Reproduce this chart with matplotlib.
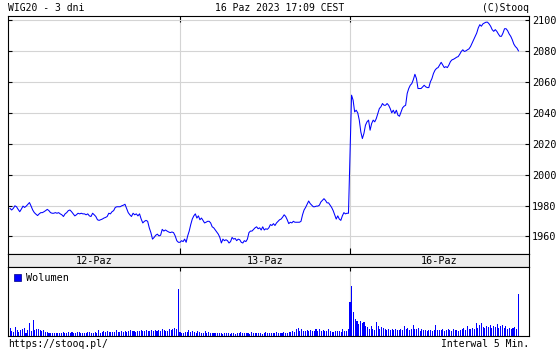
import matplotlib
matplotlib.use("Agg")
import matplotlib.pyplot as plt

# WIG20, 5-minute bars, three sessions
day_labels = ["12-Paz", "13-Paz", "16-Paz"]
price_ticks = [1960, 1980, 2000, 2020, 2040, 2060, 2080, 2100]

price_d1 = [1978.1, 1977.1, 1978.1, 1979.8, 1979.2, 1977.5, 1976.0, 1977.7, 1979.6, 1978.75,
            1979.6, 1980.8, 1981.9, 1979.6, 1977.1, 1975.4, 1974.4, 1973.5, 1974.6, 1975.4,
            1975.4, 1976.0, 1976.7, 1977.5, 1976.7, 1975.4, 1975.0, 1975.0, 1975.4, 1975.0,
            1975.4, 1974.6, 1974.0, 1972.9, 1974.6, 1975.4, 1976.7, 1977.1, 1976.0, 1974.6,
            1973.3, 1974.0, 1975.0, 1974.6, 1975.0, 1974.6, 1974.6, 1974.0, 1974.6, 1973.3,
            1972.9, 1975.0, 1974.0, 1972.9, 1970.8,
            1970.4, 1970.8, 1971.25, 1971.9, 1972.3, 1972.9, 1975.0, 1974.6, 1976.0, 1976.7,
            1978.75, 1979.2, 1979.2, 1979.2, 1979.8, 1980.2, 1980.8, 1978.1, 1975.4, 1974.0,
            1972.9, 1975.0, 1974.0, 1974.6, 1973.3, 1974.6, 1971.25, 1968.75, 1969.8, 1970.4,
            1969.8, 1965.6, 1962.5, 1958.3, 1959.4, 1960.8, 1961.5, 1960.4, 1960.8, 1964.6,
            1963.5, 1964.2, 1963.5, 1962.9, 1962.5, 1962.9, 1962.5, 1960.4, 1957.3, 1956.25]

price_d2 = [1956.25, 1957.3, 1956.7, 1958.3, 1956.25, 1960.4, 1963.5, 1967.7, 1971.25, 1973.3,
            1974.6, 1971.9, 1973.3, 1970.8, 1971.9, 1970.4, 1968.75, 1969.2, 1969.8, 1969.8,
            1968.75, 1966.25, 1965.6, 1964.2, 1962.9, 1961.5, 1959.4, 1955.8, 1958.3, 1957.3,
            1957.9, 1957.3, 1955.8, 1956.7, 1959.4, 1958.3, 1958.75, 1957.3, 1958.3, 1957.9,
            1956.25, 1955.8, 1957.3, 1956.7, 1958.3, 1962.5, 1963.5, 1963.5, 1964.6, 1965.6,
            1966.25, 1965.0, 1965.6, 1964.2, 1966.25, 1964.2, 1965.0, 1964.6, 1965.6, 1967.7,
            1967.1, 1968.3, 1967.1, 1968.75, 1969.8,
            1970.8, 1971.25, 1972.5, 1974.0, 1972.9, 1970.8, 1968.3, 1969.2, 1968.75, 1969.8,
            1969.2, 1969.2, 1969.2, 1969.2, 1969.8, 1974.0, 1977.1, 1978.75, 1980.8, 1982.9,
            1981.25, 1980.2, 1979.2, 1979.2, 1979.6, 1979.6, 1980.2, 1982.3, 1983.3, 1984.4,
            1983.3, 1981.7, 1981.7, 1980.2, 1978.75, 1976.7, 1974.0, 1971.25, 1973.3, 1971.25,
            1970.4, 1973.3, 1975.4, 1974.6, 1975.0, 1975.0]

price_d3 = [2013.1, 2051.2,
            2048.0, 2040.4, 2041.5, 2039.8, 2035.1, 2027.5, 2023.2, 2026.5, 2031.8, 2034.0,
            2035.1, 2028.6, 2032.9, 2035.1, 2034.0, 2036.1, 2039.4, 2042.6, 2043.7, 2045.8,
            2044.7, 2044.7, 2045.8, 2044.7, 2042.6, 2039.8, 2041.5, 2039.4, 2041.5, 2038.3,
            2037.6, 2040.4, 2043.0, 2044.1, 2044.7, 2052.3, 2055.5, 2057.6, 2058.7, 2061.3,
            2064.7, 2061.9, 2055.5, 2055.5, 2055.5, 2056.6, 2057.6, 2056.6, 2056.1, 2056.1,
            2059.8, 2061.9, 2065.2, 2067.3,
            2068.5, 2069.0, 2070.7, 2072.4, 2070.7, 2069.0, 2069.6, 2069.0, 2070.7, 2072.9,
            2074.0, 2074.4, 2075.0, 2075.7, 2076.1, 2077.6, 2079.4, 2080.5, 2079.4, 2079.8,
            2080.5, 2081.1, 2082.6, 2084.8, 2087.0, 2089.2, 2091.3, 2094.6, 2096.7, 2095.7,
            2097.2, 2097.8, 2098.3, 2098.3, 2097.2, 2095.7, 2093.5, 2092.4, 2093.5, 2092.4,
            2090.7, 2089.2, 2089.2, 2091.3, 2094.1, 2094.1, 2092.8, 2090.7, 2089.2, 2087.0,
            2084.2, 2082.6, 2081.6, 2079.8]

# volume in relative units (no scale on the original)
vol_d1 = [23, 15, 12, 27, 18, 13, 17, 20, 23, 10, 18, 40, 15, 48, 17, 20, 20, 19, 15, 17,
          13, 12, 10, 10, 9, 10, 10, 9, 8, 10, 11, 9, 10, 13, 9, 12, 10, 9, 12, 11,
          10, 10, 9, 10, 11, 12, 10, 10, 11, 9, 17, 10, 13, 15, 11, 14, 13, 12, 11, 12,
          17, 13, 12, 14, 12, 16, 13, 14, 18, 15, 14, 12, 16, 14, 18, 15, 15, 17, 16, 16,
          18, 15, 17, 14, 18, 16, 20, 18, 16, 15, 22, 17, 20, 25, 20, 140]
vol_d2 = [12, 10, 10, 12, 13, 18, 12, 16, 13, 10, 14, 12, 9, 10, 16, 8, 12, 9, 10, 9,
          8, 9, 10, 8, 7, 8, 9, 8, 7, 8, 10, 7, 9, 8, 13, 8, 10, 9, 9, 7,
          12, 8, 10, 9, 9, 10, 7, 10, 11, 8, 9, 10, 8, 9, 11, 10, 8, 10, 12, 10,
          9, 12, 13, 16, 12, 20, 25, 15, 22, 16, 14, 17, 16, 18, 15, 14, 22, 16, 20, 16,
          18, 14, 16, 20, 15, 13, 12, 16, 15, 14, 12, 20, 15, 16, 22]
vol_d3 = [100, 150, 72, 50, 45, 35, 45, 40, 42, 30, 28, 22, 30, 20, 18, 42, 30, 22, 28, 25,
          20, 18, 20, 18, 20, 18, 20, 19, 17, 20, 18, 30, 22, 25, 18, 20, 32, 22, 20, 25,
          15, 20, 17, 18, 15, 18, 17, 16, 18, 33, 18, 17, 18, 20, 16, 18, 20, 18, 15, 20,
          17, 18, 15, 18, 22, 25, 18, 30, 22, 20, 25, 22, 38, 25, 32, 40, 28, 25, 30, 28,
          32, 25, 30, 28, 35, 25, 30, 32, 25, 30, 22, 25, 22, 25, 28, 22, 125]

BLUE = "#0000ff"
GRID = "#d4d4d4"
plt.rcParams["font.family"] = ["DejaVu Sans Mono"]
plt.rcParams["font.size"] = 7


def rect(l, t, r, b):
    return [l / 560, 1 - b / 350, (r - l) / 560, (b - t) / 350]


def day_x(days):
    xs = []
    for d, vals in enumerate(days):
        n = len(vals)
        xs += [d + j / n for j in range(n)]
    return xs


px = day_x([price_d1, price_d2, price_d3])
py = price_d1 + price_d2 + price_d3
vx = day_x([vol_d1, vol_d2, vol_d3])
vy = vol_d1 + vol_d2 + vol_d3

XMIN, XMAX = -0.012, 3.053

fig = plt.figure(figsize=(5.6, 3.5), dpi=100)
fig.patch.set_facecolor("white")

# price panel
ax = fig.add_axes(rect(8, 16, 529, 254))
ax.plot(px, py, color=BLUE, lw=0.75)
ax.set_xlim(XMIN, XMAX)
ax.set_ylim(1948.7, 2102.3)
ax.set_yticks(price_ticks)
ax.set_xticks([1, 2])
ax.set_xticklabels([])
ax.grid(True, color=GRID, lw=0.8)
ax.set_axisbelow(True)
ax.tick_params(axis="y", direction="in", left=True, right=True, labelleft=False,
               labelright=True, length=3, width=0.8, pad=2, labelsize=7.3)
ax.tick_params(axis="x", direction="in", top=True, bottom=True, length=4, width=0.8)
for s in ax.spines.values():
    s.set_linewidth(0.8)

# date band
band = fig.add_axes(rect(8, 254, 529, 267))
band.set_facecolor("#ececec")
band.set_xlim(XMIN, XMAX)
band.set_ylim(0, 1)
band.set_xticks([])
band.set_yticks([])
centers = [(XMIN + 1) / 2, 1.5, (2 + XMAX) / 2]
for c, lab in zip(centers, day_labels):
    band.text(c, 0.45, lab, ha="center", va="center", fontsize=7.3)
for s in band.spines.values():
    s.set_linewidth(0.8)

# volume panel
axv = fig.add_axes(rect(8, 267, 529, 336))
axv.bar(vx, vy, width=0.0062, color=BLUE, lw=0, label="Wolumen", antialiased=False)
axv.set_xlim(XMIN, XMAX)
axv.set_ylim(0, 205)
axv.set_xticks([1, 2])
axv.set_xticklabels([])
axv.set_yticks([])
axv.grid(True, axis="x", color=GRID, lw=0.8)
axv.set_axisbelow(True)
axv.tick_params(axis="x", direction="in", top=True, bottom=False, length=3, width=0.8)
for s in axv.spines.values():
    s.set_linewidth(0.8)
leg = axv.legend(loc="upper left", frameon=False, fontsize=7.3, handlelength=0.7,
                 handleheight=0.7, handletextpad=0.5, borderaxespad=0.3, borderpad=0.3)
for h in leg.legend_handles:
    h.set_edgecolor("#000080")
    h.set_linewidth(0.5)

# header / footer texts
fig.text(8 / 560, 1 - 8 / 350, "WIG20 - 3 dni", ha="left", va="center")
fig.text(280 / 560, 1 - 8 / 350, "16 Paz 2023 17:09 CEST", ha="center", va="center")
fig.text(529 / 560, 1 - 8 / 350, "(C)Stooq", ha="right", va="center")
fig.text(8 / 560, 1 - 344 / 350, "https://stooq.pl/", ha="left", va="center")
fig.text(529 / 560, 1 - 344 / 350, "Interwal 5 Min.", ha="right", va="center")

fig.savefig("out.png", dpi=100, facecolor="white")
